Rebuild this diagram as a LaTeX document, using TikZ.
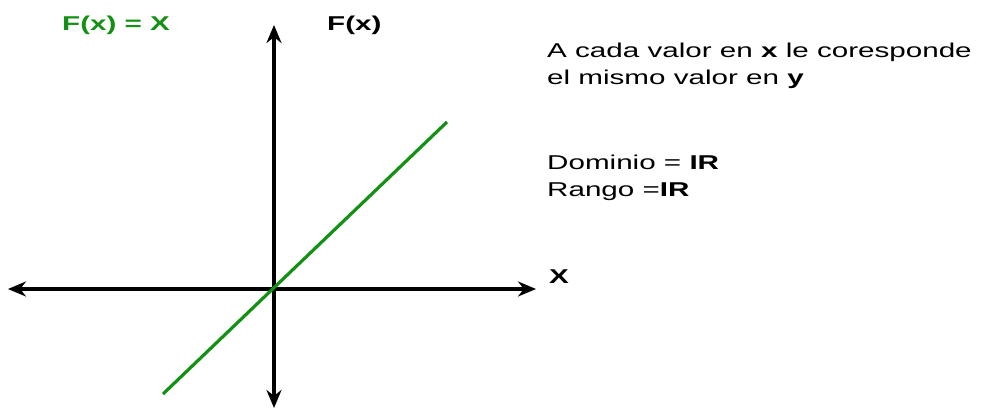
\documentclass[tikz,border=0pt]{standalone}
\usepackage{fontspec}
\setmainfont{Liberation Sans}
\usetikzlibrary{arrows.meta}
\definecolor{lgreen}{RGB}{20,145,20}
\newcommand{\wide}[1]{\scalebox{1.48}[1]{#1}}
\tikzset{
  lbl/.style={anchor=base west, inner sep=0pt, font=\fontsize{20}{24}\selectfont},
  axis/.style={line width=3.2pt, {Stealth[length=18pt,width=15pt]}-{Stealth[length=18pt,width=15pt]}},
  graphline/.style={line width=3.2pt, lgreen}
}
\begin{document}
\begin{tikzpicture}[x=1pt,y=-1pt]
\useasboundingbox (0,0) rectangle (984,409);
% axes
\coordinate (xl) at (8,289);
\coordinate (xr) at (536,289);
\coordinate (yt) at (274,25);
\coordinate (yb) at (274,408);
\coordinate (g1) at (163,394);
\coordinate (g2) at (447,122);
\draw[axis] (xl) -- (xr);
\draw[axis] (yb) -- (yt);
\draw[graphline] (g1) -- (g2);
% labels
\node[lbl, text=lgreen] (title) at (62,31) {\wide{\textbf{F(x) = X}}};
\node[lbl] (fx) at (327,31) {\wide{\textbf{F(x)}}};
\node[lbl] (xlab) at (549,283) {\wide{\textbf{X}}};
\node[lbl] (t1) at (547,57.5) {\wide{A cada valor en \textbf{x} le coresponde}};
\node[lbl] (t2) at (547,85) {\wide{el mismo valor en \textbf{y}}};
\node[lbl] (t3) at (547,169) {\wide{Dominio = \textbf{IR}}};
\node[lbl] (t4) at (547,196.5) {\wide{Rango =\textbf{IR}}};
\end{tikzpicture}
\end{document}
